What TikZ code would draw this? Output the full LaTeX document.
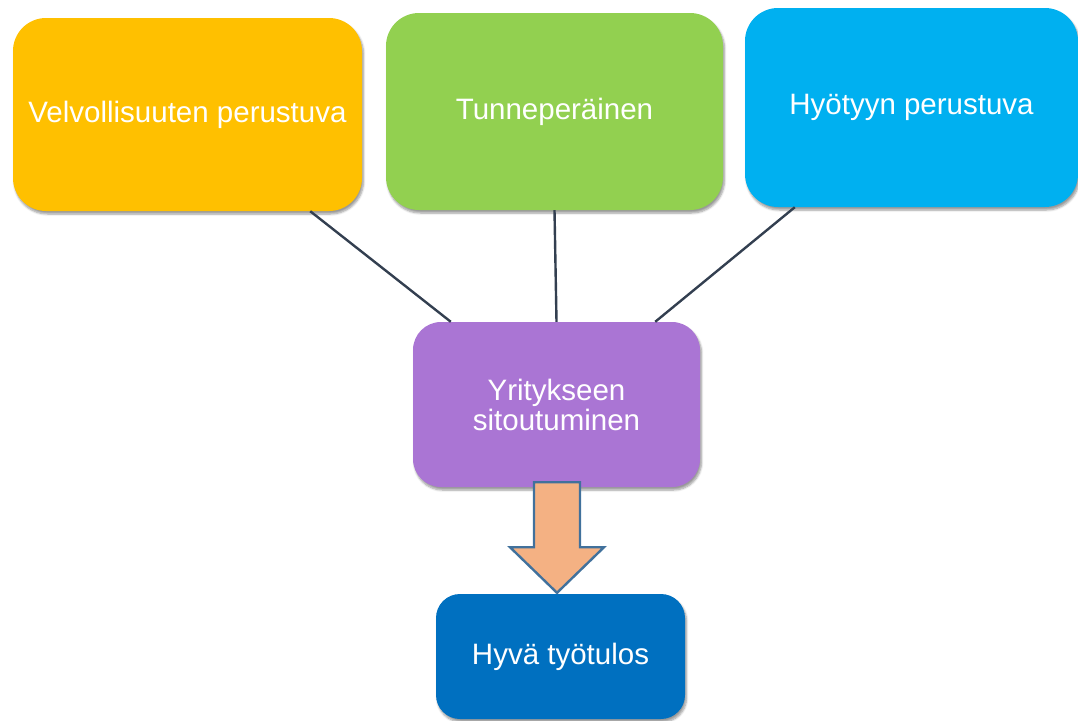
\documentclass[tikz,border=0pt]{standalone}
\usepackage{fontspec}
\setmainfont{Liberation Sans}
\usetikzlibrary{shadows.blur,calc}

\definecolor{cOrange}{HTML}{FFC000}
\definecolor{cGreen}{HTML}{92D050}
\definecolor{cSky}{HTML}{00B0F0}
\definecolor{cPurple}{HTML}{AA75D4}
\definecolor{cNavy}{HTML}{0070C0}
\definecolor{cPeach}{HTML}{F4B183}
\definecolor{cArrowEdge}{HTML}{41719C}
\definecolor{cLink}{HTML}{333F50}

\tikzset{
  box/.style={draw=none, text=white, align=center,
    font=\fontsize{29.5}{30}\selectfont, inner sep=0pt,
    blur shadow={shadow xshift=1.5pt, shadow yshift=-3pt,
      shadow opacity=40, shadow blur steps=6, shadow blur extra rounding=2pt}},
  link/.style={draw=cLink, line width=2.4pt},
  bigarrow/.style={fill=cPeach, draw=cArrowEdge, line width=2.4pt, line join=miter}
}

\begin{document}
\begin{tikzpicture}[x=1pt, y=-1pt]
  \useasboundingbox (0,0) rectangle (1078,720);

  % upper row: three kinds of commitment
  \node[box, fill=cOrange, rounded corners=33pt, minimum width=349pt, minimum height=193pt]
    (duty) at (187.5,114.5) {Velvollisuuten perustuva};
  \node[box, fill=cGreen, rounded corners=33pt, minimum width=337pt, minimum height=197pt]
    (feel) at (554.5,111.5) {Tunneperäinen};
  \node[box, fill=cSky, rounded corners=33pt, minimum width=333pt, minimum height=199pt]
    (gain) at (911.5,107.5) {Hyötyyn perustuva};

  % centre box
  \node[box, fill=cPurple, rounded corners=28pt, minimum width=287pt, minimum height=165pt]
    (commit) at (556.5,404.5) {Yritykseen\\sitoutuminen};

  % result box
  \node[box, fill=cNavy, rounded corners=24pt, minimum width=249pt, minimum height=125pt]
    (result) at (560.5,656.5) {Hyvä työtulos};

  % connectors from the upper row to the centre box
  \draw[link] ([xshift=-52pt]duty.south east) -- ([xshift=38pt]commit.north west);
  \draw[link] (feel.south) -- (commit.north);
  \draw[link] ([xshift=50pt]gain.south west) -- ([xshift=-45pt]commit.north east);

  % block arrow from the centre box down to the result
  \coordinate (atop) at ($(commit.south)+(0.5,-5)$);
  \draw[bigarrow] (atop) ++(-23,0) -- ++(46,0) -- ++(0,65) -- ++(24,0)
    -- ($(result.north)+(-3.5,-1)$) -- ($(atop)+(-47,65)$) -- ($(atop)+(-23,65)$) -- cycle;
\end{tikzpicture}
\end{document}
